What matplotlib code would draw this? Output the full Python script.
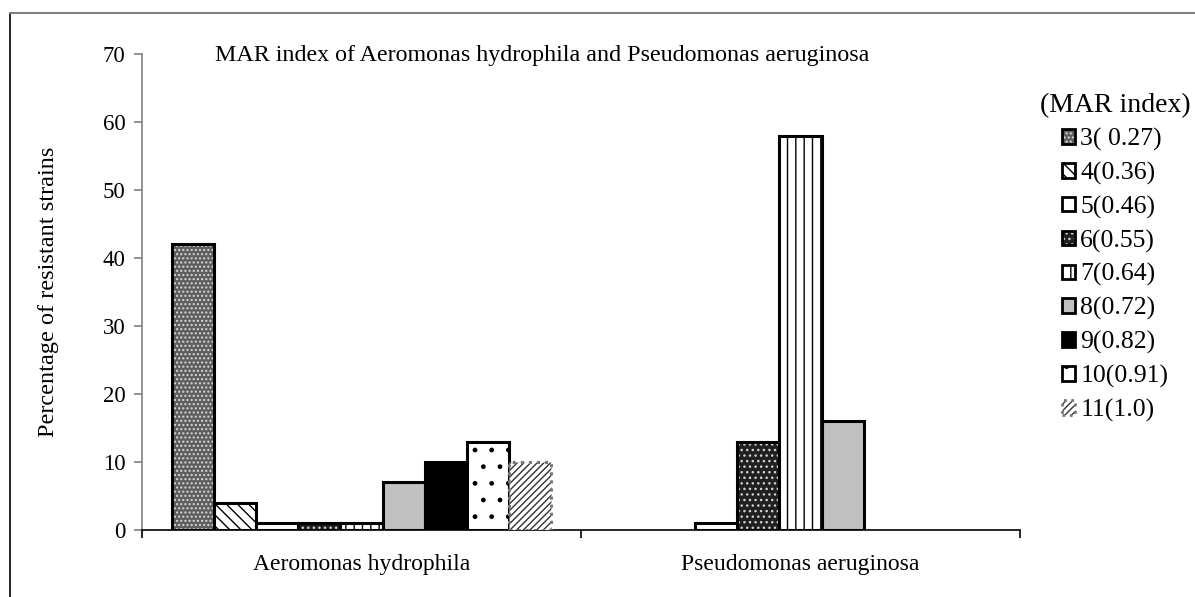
import matplotlib
matplotlib.use("Agg")
import matplotlib.pyplot as plt
import numpy as np
from matplotlib.colors import to_rgba
from matplotlib.lines import Line2D

categories = ["Aeromonas hydrophila", "Pseudomonas aeruginosa"]
mar_labels = ["3( 0.27)", "4(0.36)", "5(0.46)", "6(0.55)", "7(0.64)",
              "8(0.72)", "9(0.82)", "10(0.91)", "11(1.0)"]
aeromonas = [42, 4, 1, 1, 1, 7, 10, 13, 10]
pseudomonas = [0, 0, 1, 13, 58, 16, 0, 0, 0]
yticks = [0, 10, 20, 30, 40, 50, 60, 70]

# style per series: facecolor, hatch, hatch colour, edge colour, edge style
styles = [
    ("#5e5e5e", "....", "#d8d8d8", "black", "solid"),
    ("white", "\\\\\\", "black", "black", "solid"),
    ("white", None, "black", "black", "solid"),
    ("#202020", "...", "#d0d0d0", "black", "solid"),
    ("white", "||", "black", "black", "solid"),
    ("#c0c0c0", None, "black", "black", "solid"),
    ("black", None, "black", "black", "solid"),
    ("white", ".", "black", "black", "solid"),
    ("white", "/////", "#333333", "#777777", "dotted"),
]

plt.rcParams["font.family"] = ["Liberation Serif", "DejaVu Serif"]
plt.rcParams["hatch.linewidth"] = 1.0

W, H = 1195, 597
fig = plt.figure(figsize=(W / 100, H / 100), dpi=100)
ax = fig.add_axes([142 / W, 1 - 530 / H, (1020 - 142) / W, (530 - 54) / H])

data = np.array([aeromonas, pseudomonas])
n = len(mar_labels)
width = 0.0961
x = np.arange(len(categories))
handles = []
for i in range(n):
    fc, hatch, hc, ec, ls = styles[i]
    pos = x - width * n / 2 + width * (i + 0.5)
    bars = ax.bar(pos, data[:, i], width=width, color=fc, hatch=hatch,
                  edgecolor=ec, linewidth=2.2, linestyle=ls, zorder=3,
                  label=mar_labels[i])
    for b, v in zip(bars, data[:, i]):
        b._hatch_color = to_rgba(hc)
        if v == 0:
            b.set_visible(False)
    handles.append(bars)

ax.set_xlim(-0.5, 1.5)
ax.set_ylim(0, 70)
ax.set_yticks(yticks)
ax.set_xticks([-0.5, 0.5, 1.5])
ax.set_xticklabels([])
ax.set_xticks(x, minor=True)
ax.set_xticklabels(categories, minor=True)
ax.tick_params(axis="x", which="minor", length=0, pad=17, labelsize=17)
ax.tick_params(axis="x", which="major", direction="out", length=6, width=1.2,
               color="black")
ax.tick_params(axis="y", direction="out", length=6, width=1.2, color="#808080",
               labelsize=16.5, pad=6)
for s in ["top", "right"]:
    ax.spines[s].set_visible(False)
ax.spines["left"].set_color("#808080")
ax.spines["left"].set_linewidth(1.2)
ax.spines["bottom"].set_color("black")
ax.spines["bottom"].set_linewidth(1.2)
ax.set_ylabel("Percentage of resistant strains", fontsize=17.5, labelpad=31)

fig.text(215 / W, 1 - 55 / H, "MAR index of Aeromonas hydrophila and Pseudomonas aeruginosa",
         fontsize=17.3, ha="left", va="center")

leg = fig.legend(handles=handles, labels=mar_labels, title="(MAR index)",
                 loc="upper left", bbox_to_anchor=(1040 / W, 1 - 93 / H),
                 frameon=False, fontsize=18.5, title_fontsize=20,
                 handlelength=0.5, handleheight=0.5, handletextpad=0.2,
                 labelspacing=0.42, borderaxespad=0, borderpad=0)
leg._legend_box.align = "center"
leg._legend_box.sep = 7
for h in leg.legend_handles:
    h.set_linewidth(2.0)

# outer frame
fig.add_artist(Line2D([9.5 / W, 9.5 / W], [0, 1 - 13 / H], transform=fig.transFigure,
                      color="black", lw=1.2))
fig.add_artist(Line2D([9.5 / W, 1], [1 - 13 / H, 1 - 13 / H], transform=fig.transFigure,
                      color="#808080", lw=1.5))

fig.savefig("out.png", dpi=100)
